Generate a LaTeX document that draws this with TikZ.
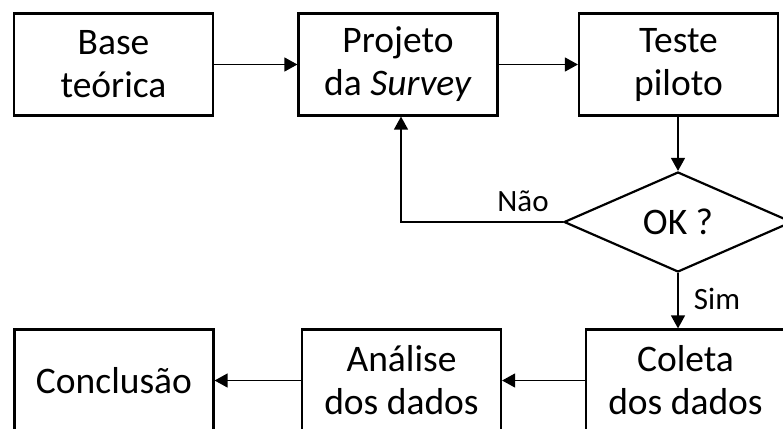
\documentclass[tikz,border=0pt]{standalone}
\usepackage{fontspec}
\setmainfont{Carlito}
\usetikzlibrary{arrows.meta,shapes.geometric}
\begin{document}
\begin{tikzpicture}[x=1pt,y=-1pt,
  box/.style={draw,line width=2.2pt,minimum width=199pt,minimum height=102pt,inner sep=0pt,align=center,font=\fontsize{37.5}{43}\selectfont},
  conn/.style={line width=1.3pt,-{Triangle[length=13pt,width=14pt]}},
  lbl/.style={font=\fontsize{31}{36}\selectfont,inner sep=0pt}]
\useasboundingbox (0,0) rectangle (783,428);
\clip (0,0) rectangle (783,428);
\node[box] (base) at (113.5,64.5) {Base\\teórica};
\node[box] (proj) at (398,64.5) {Projeto\\da \textit{Survey}};
\node[box] (teste) at (678.5,64.5) {Teste\\piloto};
\node[draw,diamond,line width=2.2pt,minimum width=228pt,minimum height=100pt,inner sep=0pt,font=\fontsize{37.5}{43}\selectfont] (ok) at (678,222) {OK ?};
\node[box] (conc) at (114,380.5) {Conclusão};
\node[box] (anal) at (401.5,380.5) {Análise\\dos dados};
\node[box] (colet) at (685.5,380.5) {Coleta\\dos dados};
\node[lbl] (nao) at (523,201) {Não};
\node[lbl] (sim) at (717,299) {Sim};
\draw[conn] (base.east) -- (proj.west);
\draw[conn] (proj.east) -- (teste.west);
\draw[conn] (teste.south -| ok.north) -- (ok.north);
\draw[conn] (ok.west) -| ([xshift=3pt]proj.south);
\draw[conn] (ok.south) -- (ok.south |- colet.north);
\draw[conn] (colet.west) -- (anal.east);
\draw[conn] (anal.west) -- (conc.east);
\end{tikzpicture}
\end{document}
